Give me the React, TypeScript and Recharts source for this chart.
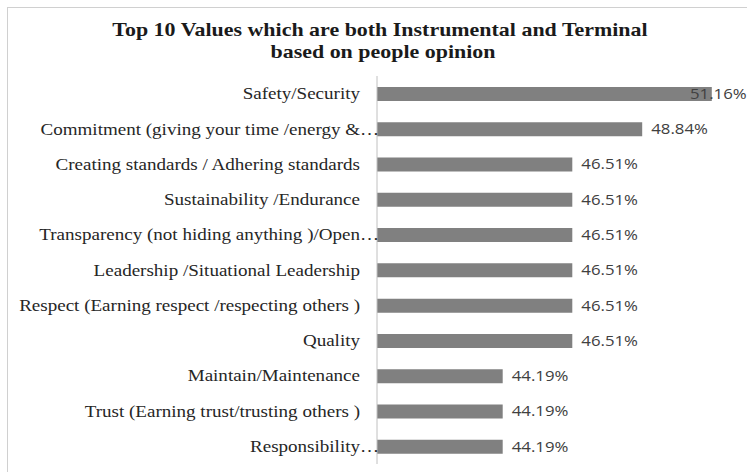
import React from "react";
import { BarChart, Bar, XAxis, YAxis, LabelList } from "recharts";

const categories = [
  "Safety/Security",
  "Commitment (giving your time /energy &…",
  "Creating standards / Adhering standards",
  "Sustainability /Endurance",
  "Transparency (not hiding anything )/Open…",
  "Leadership /Situational Leadership",
  "Respect (Earning respect /respecting others )",
  "Quality",
  "Maintain/Maintenance",
  "Trust (Earning trust/trusting others )",
  "Responsibility…",
];
const values = [51.16, 48.84, 46.51, 46.51, 46.51, 46.51, 46.51, 46.51, 44.19, 44.19, 44.19];
const valueLabels = ["51.16%", "48.84%", "46.51%", "46.51%", "46.51%", "46.51%", "46.51%", "46.51%", "44.19%", "44.19%", "44.19%"];
const titleLines = ["Top 10 Values which are both Instrumental and Terminal", "based on people opinion"];

const data = categories.map((name, i) => ({ name, value: values[i], label: valueLabels[i] }));

const W = 747;
const H = 472;
const STRETCH = 1.19;
const SERIF = "'Liberation Serif', 'Times New Roman', serif";

const CategoryTick = (props: any) => {
  const { x, y, payload } = props;
  const full: string = String(payload.value);
  const hasEllipsis = full.endsWith("…");
  const base = hasEllipsis ? full.slice(0, -1) : full;
  const common = {
    x: 0,
    y: 0,
    dy: "0.35em",
    fontFamily: SERIF,
    fontSize: 16,
    fill: "#262626",
  };
  return (
    <g transform={`translate(${x},${y}) scale(${STRETCH},1)`}>
      <text {...common} textAnchor="end">
        {base}
      </text>
      {hasEllipsis && (
        <text {...common} textAnchor="start">
          …
        </text>
      )}
    </g>
  );
};

const ValueLabel = (props: any) => {
  const { x, y, width, height, value } = props;
  const end = x + width;
  const tx = Math.min(end + 9, W - 57);
  return (
    <text
      transform={`translate(${tx},${y + height / 2}) scale(1.2,1)`}
      x={0}
      y={0}
      dy="0.35em"
      textAnchor="start"
      fontFamily="'Open Sans', sans-serif"
      fontSize={14}
      fill="#404040"
    >
      {value}
    </text>
  );
};

export default function App() {
  return (
    <div style={{ position: "absolute", left: 0, top: 0, width: W, height: H, overflow: "hidden", background: "#fff" }}>
      <div
        style={{
          position: "absolute",
          left: 7,
          top: 7,
          width: W + 40,
          height: H + 40,
          border: "1px solid #d0d0d0",
          boxSizing: "border-box",
        }}
      />
      <svg width={W} height={70} style={{ position: "absolute", left: 0, top: 0 }}>
        <text
          transform={`translate(380,36) scale(1.22,1)`}
          textAnchor="middle"
          fontFamily={SERIF}
          fontWeight="bold"
          fontSize={18}
          fill="#1a1a1a"
        >
          {titleLines[0]}
        </text>
        <text
          transform={`translate(383,58) scale(1.22,1)`}
          textAnchor="middle"
          fontFamily={SERIF}
          fontWeight="bold"
          fontSize={18}
          fill="#1a1a1a"
        >
          {titleLines[1]}
        </text>
      </svg>
      <div style={{ position: "absolute", left: 0, top: 0 }}>
        <BarChart
          width={W}
          height={H}
          data={data}
          layout="vertical"
          margin={{ top: 76, right: 10, bottom: 8, left: 0 }}
          barSize={14}
        >
          <XAxis type="number" domain={[40, 52]} hide allowDataOverflow />
          <YAxis
            type="category"
            dataKey="name"
            width={377}
            axisLine={{ stroke: "#c0c0c0", strokeWidth: 1 }}
            tickLine={false}
            tickSize={0}
            tickMargin={17}
            tick={<CategoryTick />}
            interval={0}
          />
          <Bar dataKey="value" fill="#808080" isAnimationActive={false}>
            <LabelList dataKey="label" content={<ValueLabel />} />
          </Bar>
        </BarChart>
      </div>
    </div>
  );
}
